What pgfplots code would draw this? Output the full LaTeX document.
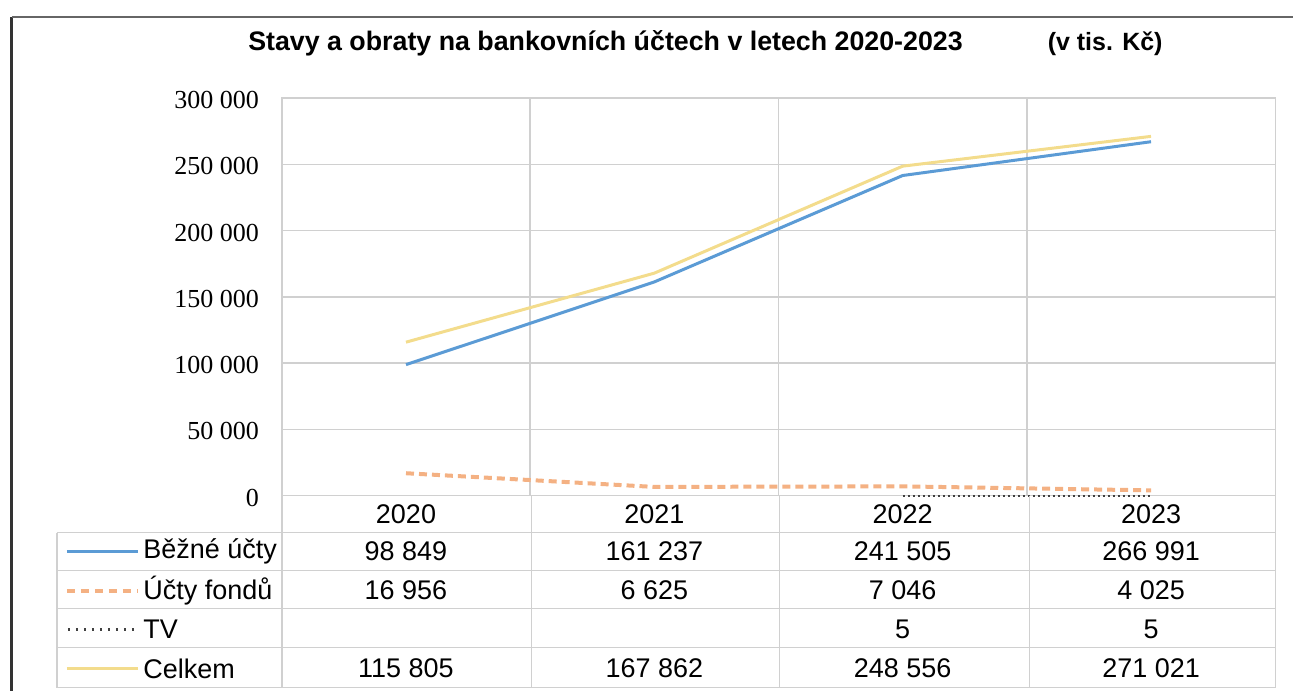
\documentclass[border=0pt]{standalone}
\usepackage{fontspec}
\setmainfont{Liberation Sans}
\newfontfamily\seriffont{Liberation Serif}
\usepackage{pgfplots}
\pgfplotsset{compat=1.18}
\definecolor{cblue}{HTML}{5B9BD5}
\definecolor{corange}{HTML}{F4B183}
\definecolor{cyellow}{HTML}{F3DC8C}
\definecolor{cgrid}{HTML}{D0D0D0}
\definecolor{ctv}{HTML}{404040}
\begin{document}
\begin{tikzpicture}
\begin{axis}[at={(141pt,-248pt)}, anchor=south west, scale only axis,
  width=497pt, height=199pt,
  xmin=-0.5, xmax=3.5, ymin=0, ymax=300000,
  scaled y ticks=false,
  axis line style={cgrid, line width=0.7pt},
  xtick={-0.5,0.5,1.5,2.5,3.5}, xticklabels={},
  ytick={0,50000,100000,150000,200000,250000,300000},
  yticklabels={0,50 000,100 000,150 000,200 000,250 000,300 000},
  major tick length=0pt,
  yticklabel style={font=\seriffont\fontsize{13}{13}\selectfont, xshift=-8pt, yshift=-1pt},
  xmajorgrids, ymajorgrids,
  grid style={cgrid, line width=0.7pt},
  clip=false]
\addplot[cblue, line width=1.5pt] coordinates {(0,98849)(1,161237)(2,241505)(3,266991)};
\addplot[corange, line width=2pt, dash pattern=on 4pt off 2.5pt] coordinates {(0,16956)(1,6625)(2,7046)(3,4025)};
\addplot[ctv, line width=1.2pt, dash pattern=on 1pt off 1.5pt] coordinates {(2,5)(3,5)};
\addplot[cyellow, line width=1.5pt] coordinates {(0,115805)(1,167862)(2,248556)(3,271021)};
\end{axis}
\begin{scope}[x=0.5pt,y=-0.5pt]
\path (0,0) rectangle (1294,691);
% frame
\draw[black!80, line width=1.5pt] (12,17) -- (12,691);
\draw[black!60, line width=0.8pt] (12,17) -- (1294,17);
% title
\node[anchor=base west, font=\bfseries\fontsize{13.4}{13.4}\selectfont, inner sep=0pt] at (248,51) {Stavy a obraty na bankovních účtech v letech 2020-2023};
\node[anchor=base west, font=\bfseries\fontsize{12.5}{12.5}\selectfont, inner sep=0pt] at (1048,51) {(v tis. Kč)};
% table grid
\foreach \xx in {282,532,780,1030,1276} \draw[cgrid, line width=0.7pt] (\xx,496) -- (\xx,688);
\foreach \yy in {533,571,609,648,688} \draw[cgrid, line width=0.7pt] (57,\yy) -- (1276,\yy);
\draw[cgrid, line width=0.7pt] (57,533) -- (57,688);
% header
\foreach \lab [count=\i from 0] in {2020,2021,2022,2023}
  \node[font=\fontsize{13.5}{13.5}\selectfont] at (406.25+248.5*\i,515) {\lab};
% legend keys
\draw[cblue, line width=1.5pt] (67,552) -- (138,552);
\draw[corange, line width=2pt, dash pattern=on 4pt off 3pt] (67,591) -- (138,591);
\draw[ctv, line width=1.2pt, dash pattern=on 1pt off 3pt] (68,630) -- (138,630);
\draw[cyellow, line width=1.5pt] (67,669) -- (138,669);
\node[anchor=west, inner sep=0pt, font=\fontsize{13.5}{13.5}\selectfont] at (143,552) {Běžné účty};
\node[anchor=west, inner sep=0pt, font=\fontsize{13.5}{13.5}\selectfont] at (143,591) {Účty fondů};
\node[anchor=west, inner sep=0pt, font=\fontsize{13.5}{13.5}\selectfont] at (143,630) {TV};
\node[anchor=west, inner sep=0pt, font=\fontsize{13.5}{13.5}\selectfont] at (143,669) {Celkem};
% values
\foreach \v [count=\i from 0] in {98 849,161 237,241 505,266 991}
  \node[font=\fontsize{13.5}{13.5}\selectfont] at (406.25+248.5*\i,552) {\v};
\foreach \v [count=\i from 0] in {16 956,6 625,7 046,4 025}
  \node[font=\fontsize{13.5}{13.5}\selectfont] at (406.25+248.5*\i,591) {\v};
\foreach \v [count=\i from 2] in {5,5}
  \node[font=\fontsize{13.5}{13.5}\selectfont] at (406.25+248.5*\i,630) {\v};
\foreach \v [count=\i from 0] in {115 805,167 862,248 556,271 021}
  \node[font=\fontsize{13.5}{13.5}\selectfont] at (406.25+248.5*\i,669) {\v};
\end{scope}
\end{tikzpicture}
\end{document}
